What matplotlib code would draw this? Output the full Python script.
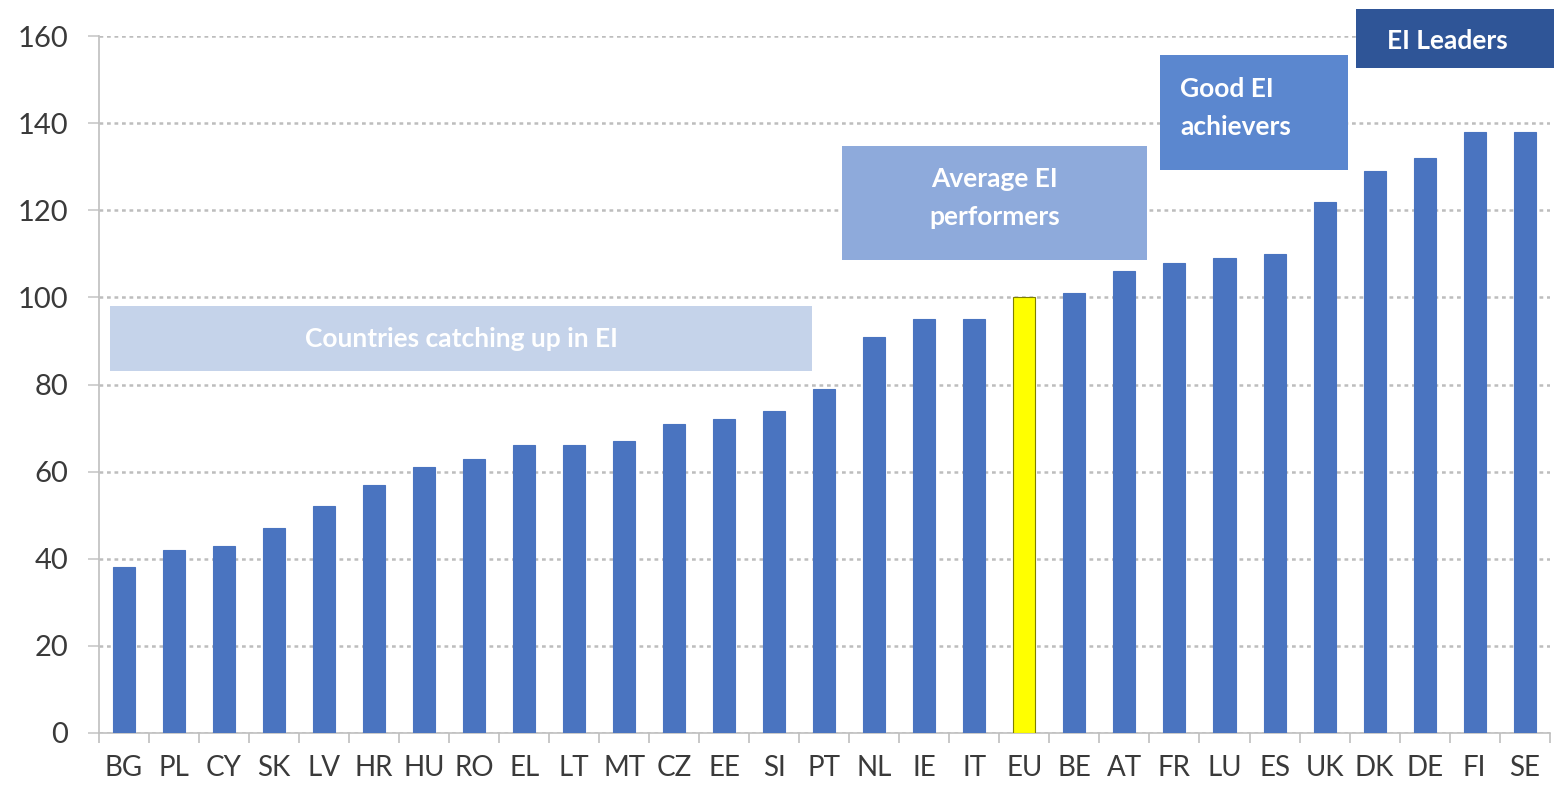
import matplotlib.pyplot as plt
from matplotlib.patches import Rectangle

countries = ['BG', 'PL', 'CY', 'SK', 'LV', 'HR', 'HU', 'RO', 'EL', 'LT', 'MT', 'CZ', 'EE', 'SI', 'PT',
             'NL', 'IE', 'IT', 'EU', 'BE', 'AT', 'FR', 'LU', 'ES', 'UK', 'DK', 'DE', 'FI', 'SE']
scores = [38, 42, 43, 47, 52, 57, 61, 63, 66, 66, 67, 71, 72, 74, 79,
          91, 95, 95, 100, 101, 106, 108, 109, 110, 122, 129, 132, 138, 138]

group_labels = ['Countries catching up in EI', 'Average EI\nperformers', 'Good EI\nachievers', 'EI Leaders']

plt.rcParams['font.family'] = ['Lato', 'DejaVu Sans']

fig = plt.figure(figsize=(15.54, 7.92), dpi=100)
ax = fig.add_axes([0.0637, 0.0745, 0.9335, 0.88])

x = list(range(len(countries)))
colors = ['#ffff00' if c == 'EU' else '#4a74c0' for c in countries]
edges = ['#7f7f00' if c == 'EU' else '#4a74c0' for c in countries]
ax.bar(x, scores, width=0.44, color=colors, edgecolor=edges, linewidth=0.8, zorder=3)

ax.set_xlim(-0.5, len(countries) - 0.5)
ax.set_ylim(0, 160)
ax.set_yticks(range(0, 161, 20))
ax.yaxis.grid(True, linestyle=(0, (1.5, 1.5)), color='#bdbdbd', linewidth=1.8, zorder=0)

ax.set_xticks(x)
ax.set_xticklabels(countries)
ax.set_xticks([i - 0.5 for i in range(len(countries) + 1)], minor=True)
ax.tick_params(axis='x', which='major', length=0, pad=16, labelsize=20, labelcolor='#3a3a3a')
ax.tick_params(axis='x', which='minor', length=7, color='#bfbfbf', width=1.2)
ax.tick_params(axis='y', length=8, color='#c8c8c8', width=1.2, pad=14, labelsize=21, labelcolor='#3a3a3a')

for s in ['top', 'right']:
    ax.spines[s].set_visible(False)
for s in ['left', 'bottom']:
    ax.spines[s].set_color('#bfbfbf')
    ax.spines[s].set_linewidth(1.2)

# group boxes: (x0, x1, y0, y1, colour, text x, text y, align)
boxes = [
    (-0.28, 13.76, 83, 98, '#c5d3ea', 6.74, 90.5, 'center'),
    (14.36, 20.46, 108.6, 134.8, '#8eaadb', 17.41, 122.8, 'center'),
    (20.72, 24.46, 129.2, 155.6, '#5b87cf', 21.12, 143.5, 'left'),
    (24.62, 28.58, 152.7, 166.3, '#2f5597', 26.46, 158.8, 'center'),
]
for (x0, x1, y0, y1, fc, tx, ty, ha), lab in zip(boxes, group_labels):
    ax.add_patch(Rectangle((x0, y0), x1 - x0, y1 - y0, facecolor=fc, edgecolor='none',
                           zorder=2, clip_on=False))
    ax.text(tx, ty, lab, ha=ha, va='center', color='white', fontsize=19,
            fontweight='bold', linespacing=1.7, zorder=4, clip_on=False)

fig.savefig('out.png', dpi=100)
